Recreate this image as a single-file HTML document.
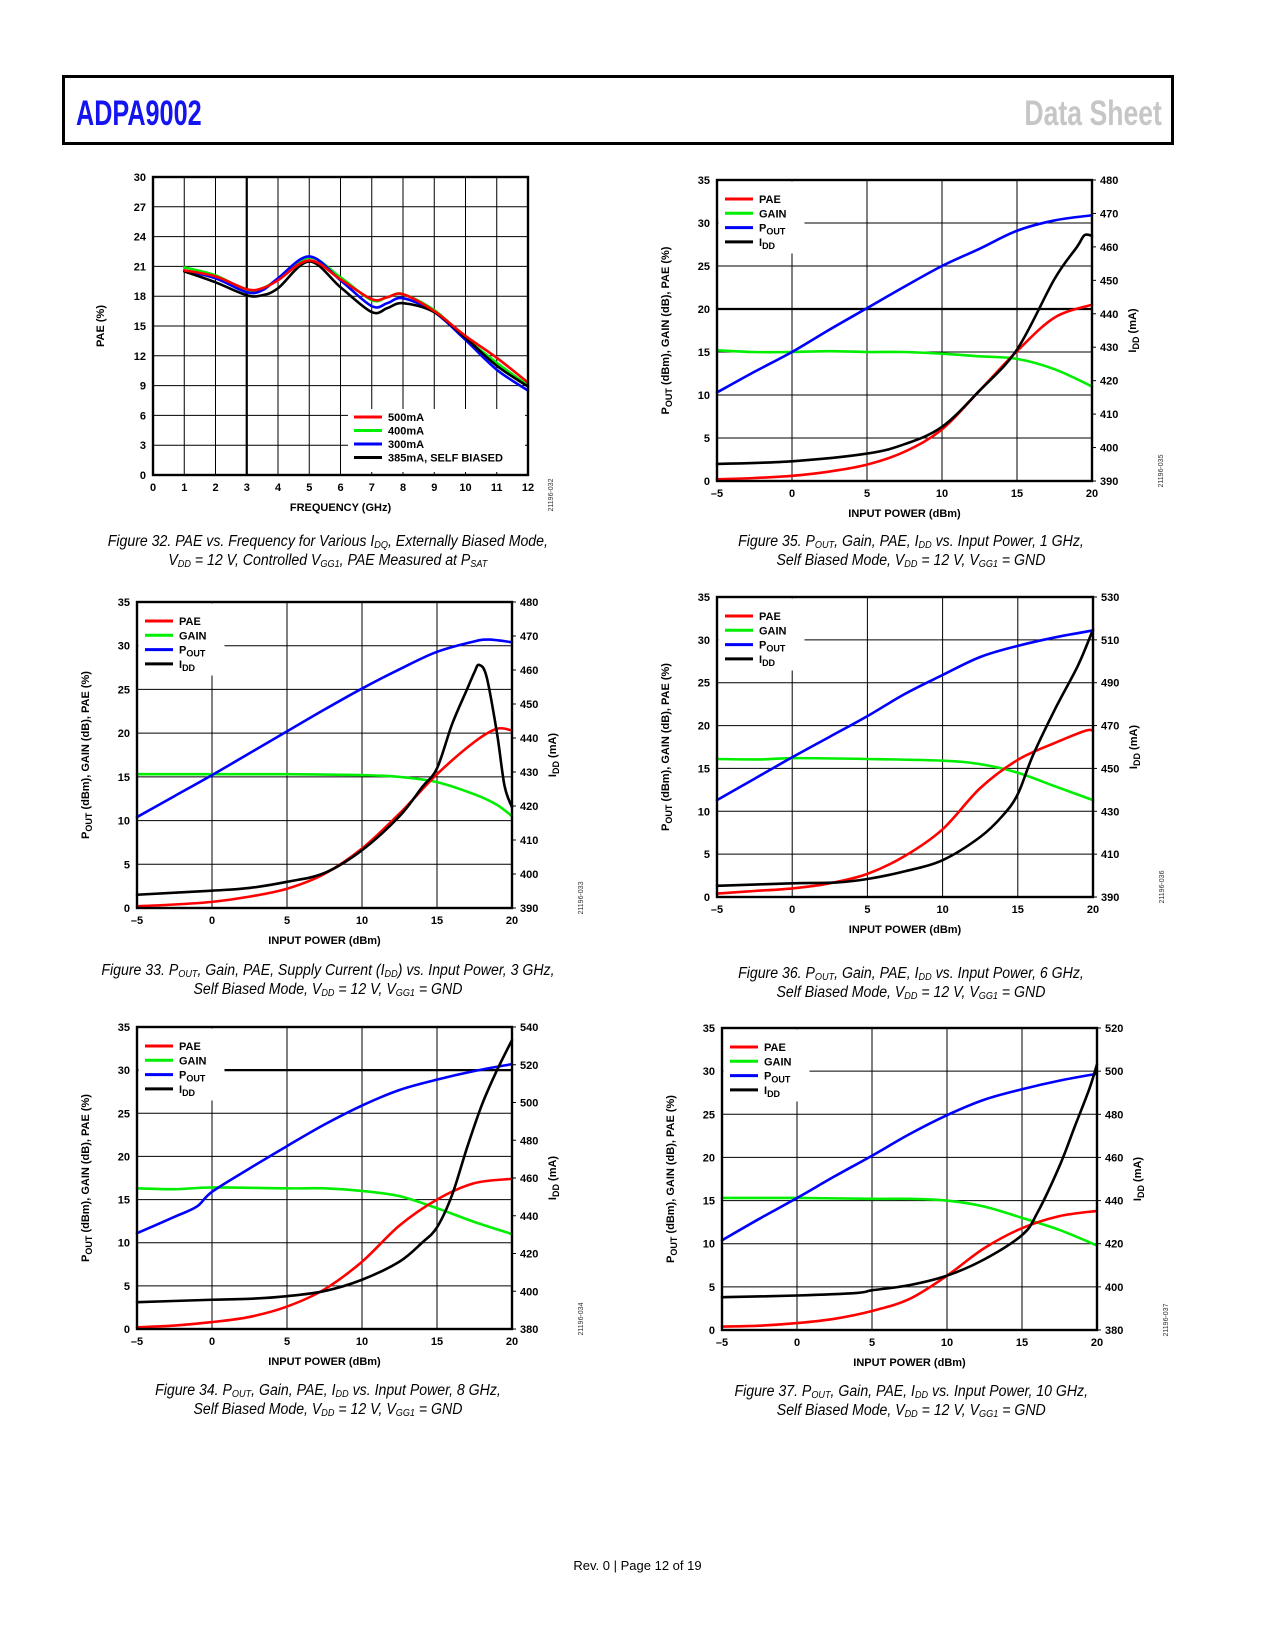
<!DOCTYPE html>
<html><head><meta charset="utf-8">
<style>
body{margin:0;background:#fff;}
#page{position:relative;width:1275px;height:1650px;overflow:hidden;background:#fff;font-family:"Liberation Sans",sans-serif;}
.hdr{position:absolute;left:62px;top:75px;width:1106px;height:64px;border:3px solid #000;}
.title{position:absolute;font-weight:bold;font-size:35px;white-space:nowrap;line-height:1;}
.cap{position:absolute;width:600px;text-align:center;font-style:italic;font-size:15.5px;line-height:19px;white-space:nowrap;}
.cap span.in{display:inline-block;transform:scaleX(0.91);transform-origin:center;}
sub{font-size:10px;vertical-align:-2px;line-height:0;}
.foot{position:absolute;left:0;width:1275px;top:1558px;text-align:center;font-size:13px;}
</style></head>
<body>
<div id="page">
  <div class="hdr"></div>
  <div class="title" style="left:76px;top:96px;color:#1414f0;transform:scaleX(0.72);transform-origin:left top;">ADPA9002</div>
  <div class="title" style="right:113px;top:96px;color:#c6c6c6;transform:scaleX(0.76);transform-origin:right top;">Data Sheet</div>

  <svg id="charts" width="1275" height="1650" style="position:absolute;left:0;top:0"></svg>

  <div class="cap" style="left:28px;top:532px"><span class="in">Figure 32. PAE vs. Frequency for Various I<sub>DQ</sub>, Externally Biased Mode,<br>V<sub>DD</sub> = 12 V, Controlled V<sub>GG1</sub>, PAE Measured at P<sub>SAT</sub></span></div>
  <div class="cap" style="left:611px;top:532px"><span class="in">Figure 35. P<sub>OUT</sub>, Gain, PAE, I<sub>DD</sub> vs. Input Power, 1 GHz,<br>Self Biased Mode, V<sub>DD</sub> = 12 V, V<sub>GG1</sub> = GND</span></div>
  <div class="cap" style="left:28px;top:961px"><span class="in">Figure 33. P<sub>OUT</sub>, Gain, PAE, Supply Current (I<sub>DD</sub>) vs. Input Power, 3 GHz,<br>Self Biased Mode, V<sub>DD</sub> = 12 V, V<sub>GG1</sub> = GND</span></div>
  <div class="cap" style="left:611px;top:964px"><span class="in">Figure 36. P<sub>OUT</sub>, Gain, PAE, I<sub>DD</sub> vs. Input Power, 6 GHz,<br>Self Biased Mode, V<sub>DD</sub> = 12 V, V<sub>GG1</sub> = GND</span></div>
  <div class="cap" style="left:28px;top:1381px"><span class="in">Figure 34. P<sub>OUT</sub>, Gain, PAE, I<sub>DD</sub> vs. Input Power, 8 GHz,<br>Self Biased Mode, V<sub>DD</sub> = 12 V, V<sub>GG1</sub> = GND</span></div>
  <div class="cap" style="left:611px;top:1382px"><span class="in">Figure 37. P<sub>OUT</sub>, Gain, PAE, I<sub>DD</sub> vs. Input Power, 10 GHz,<br>Self Biased Mode, V<sub>DD</sub> = 12 V, V<sub>GG1</sub> = GND</span></div>

  <div class="foot">Rev. 0 | Page 12 of 19</div>
</div>
<script>
// ---------- Figure 32 data ----------
const f32Freq = [1,2,3,3.5,4,5,6,7,7.5,8,9,10,11,12];
const f32Pae500 = [20.6,20.0,18.7,18.8,19.6,21.6,19.7,17.7,17.9,18.2,16.5,14.0,11.8,9.3];
const f32Pae400 = [20.9,20.1,18.6,18.8,19.7,21.9,19.9,17.6,17.9,18.2,16.6,13.8,11.3,9.0];
const f32Pae300 = [20.6,19.8,18.4,18.6,19.8,22.0,19.6,17.0,17.3,17.8,16.4,13.6,10.6,8.5];
const f32PaeSelf = [20.5,19.4,18.1,18.1,18.8,21.5,18.9,16.4,16.8,17.3,16.4,13.8,11.0,8.9];
const f32XTicks = [0,1,2,3,4,5,6,7,8,9,10,11,12];
const f32YTicks = [0,3,6,9,12,15,18,21,24,27,30];
const f32Legend = ["500mA","400mA","300mA","385mA, SELF BIASED"];

// ---------- Figure 33 (3 GHz) ----------
const f33PoutX = [-5,-2.5,0,2.5,5,7.5,10,12.5,15,17.5,18.5,20];
const f33Pout = [10.4,12.8,15.2,17.7,20.2,22.7,25.1,27.3,29.3,30.5,30.7,30.4];
const f33GainX = [-5,0,5,10,12.5,15,17.5,19,20];
const f33Gain = [15.3,15.3,15.3,15.2,15.0,14.4,13.0,11.8,10.5];
const f33PaeX = [-5,-2.5,0,2.5,5,7.5,10,12.5,15,17.5,19,20];
const f33Pae = [0.2,0.4,0.7,1.3,2.2,3.9,6.8,10.8,15.3,19.0,20.5,20.3];
const f33IddX = [-5,0,2.5,5,7.5,10,12.5,14,15,16,17,17.5,17.8,18.3,19,19.5,20];
const f33Idd = [393.9,395.1,395.9,397.7,400.3,407,417,425.5,431.1,444,454.3,459.4,461.5,458.1,441.4,426,419.6];
const f33IddTicks = [390,400,410,420,430,440,450,460,470,480];

// ---------- Figure 34 (8 GHz) ----------
const f34PoutX = [-5,-2.5,-1,0,2.5,5,7.5,10,12.5,15,17.5,20];
const f34Pout = [11.1,13.0,14.2,15.9,18.6,21.2,23.7,25.9,27.7,28.9,29.9,30.7];
const f34GainX = [-5,-2.5,0,5,7.5,10,12.5,15,17.5,20];
const f34Gain = [16.3,16.2,16.4,16.3,16.3,16.0,15.4,14.0,12.4,11.0];
const f34PaeX = [-5,-2.5,0,2.5,5,7.5,10,12.5,15,17.5,20];
const f34Pae = [0.2,0.4,0.8,1.4,2.6,4.6,7.8,12.0,15.0,16.9,17.4];
const f34IddX = [-5,0,2.5,5,7.5,10,12.5,14,15,16,17,18,19,20];
const f34Idd = [394.2,395.5,396,397.4,400.1,406.1,415.7,425.7,433.9,450.9,476,498.9,517.1,533.1];
const f34IddTicks = [380,400,420,440,460,480,500,520,540];

// ---------- Figure 35 (1 GHz) ----------
const f35PoutX = [-5,-2.5,0,2.5,5,7.5,10,12.5,15,17.5,20];
const f35Pout = [10.3,12.7,15.0,17.6,20.1,22.6,25.0,27.0,29.1,30.3,30.9];
const f35GainX = [-5,-2.5,0,2.5,5,7.5,10,12.5,15,17.5,20];
const f35Gain = [15.2,15.0,15.0,15.1,15.0,15.0,14.8,14.5,14.2,13.0,11.0];
const f35PaeX = [-5,-2.5,0,2.5,5,7.5,10,12.5,15,17.5,20];
const f35Pae = [0.2,0.35,0.6,1.1,1.9,3.4,6.0,10.5,15.1,19.0,20.5];
const f35IddX = [-5,0,5,7.5,10,12.5,15,17.5,19,19.5,20];
const f35Idd = [395.1,395.9,398.2,401,406.2,417,429.3,450.4,460,463.5,463.3];
const f35IddTicks = [390,400,410,420,430,440,450,460,470,480];

// ---------- Figure 36 (6 GHz) ----------
const f36PoutX = [-5,-2.5,0,2.5,5,7.5,10,12.5,15,17.5,20];
const f36Pout = [11.3,13.8,16.3,18.7,21.1,23.7,25.9,28.0,29.3,30.3,31.1];
const f36GainX = [-5,-2,0,5,10,12.5,15,17.5,20];
const f36Gain = [16.1,16.05,16.2,16.1,15.9,15.5,14.5,12.9,11.3];
const f36PaeX = [-5,-2.5,0,2.5,5,7.5,10,12.5,15,17.5,19.5,20];
const f36Pae = [0.4,0.7,1.0,1.6,2.7,4.8,7.9,12.7,16.0,18.0,19.4,19.4];
const f36IddX = [-5,0,3,5,7.5,10,12.5,14,15,16,17.5,19,20];
const f36Idd = [395.2,396.4,396.8,398.4,402,407.2,418,428,438,456,478,498,514.8];
const f36IddTicks = [390,410,430,450,470,490,510,530];

// ---------- Figure 37 (10 GHz) ----------
const f37PoutX = [-5,-2.5,0,2.5,5,7.5,10,12.5,15,17.5,20];
const f37Pout = [10.4,12.9,15.3,17.8,20.2,22.7,24.9,26.7,27.9,28.9,29.7];
const f37GainX = [-5,0,5,7.5,10,12.5,15,17.5,20];
const f37Gain = [15.3,15.3,15.2,15.2,15.0,14.3,13.0,11.6,9.8];
const f37PaeX = [-5,-2.5,0,2.5,5,7.5,10,12.5,15,17.5,20];
const f37Pae = [0.4,0.5,0.8,1.3,2.2,3.6,6.3,9.5,11.8,13.2,13.8];
const f37IddX = [-5,0,4,5,7.5,10,12.5,15,16,17.5,18.5,19.5,20];
const f37Idd = [395.2,396,397.2,398.4,400.8,405.2,412.8,424,434,456,474,492,503.2];
const f37IddTicks = [380,400,420,440,460,480,500,520];

const ioXTicks = [-5,0,5,10,15,20];
const ioYTicks = [0,5,10,15,20,25,30,35];
const ioLegend = ["PAE","GAIN","POUT","IDD"];

const NS = "http://www.w3.org/2000/svg";
const svg = document.getElementById('charts');
function mk(tag, attrs, parent){
  const e = document.createElementNS(NS, tag);
  for (const k in attrs) e.setAttribute(k, attrs[k]);
  (parent||svg).appendChild(e);
  return e;
}
function smoothPath(pts){
  let d = "M" + pts[0][0].toFixed(2) + "," + pts[0][1].toFixed(2);
  for (let i=0;i<pts.length-1;i++){
    const p0 = pts[Math.max(0,i-1)], p1 = pts[i], p2 = pts[i+1], p3 = pts[Math.min(pts.length-1,i+2)];
    const c1x = p1[0] + (p2[0]-p0[0])/6, c1y = p1[1] + (p2[1]-p0[1])/6;
    const c2x = p2[0] - (p3[0]-p1[0])/6, c2y = p2[1] - (p3[1]-p1[1])/6;
    d += " C" + c1x.toFixed(2)+","+c1y.toFixed(2)+" "+c2x.toFixed(2)+","+c2y.toFixed(2)+" "+p2[0].toFixed(2)+","+p2[1].toFixed(2);
  }
  return d;
}
function label(txt, x, y, anchor, size, parent){
  const t = mk('text', {x:x, y:y, 'text-anchor':anchor, 'font-size':size||11, 'font-weight':'bold', 'font-family':'Liberation Sans, sans-serif', fill:'#000'}, parent);
  t.textContent = txt;
  return t;
}
function subLabel(main, sub, rest, x, y, anchor, rot, parent){
  const t = mk('text', {x:x, y:y, 'text-anchor':anchor, 'font-size':11, 'font-weight':'bold', 'font-family':'Liberation Sans, sans-serif', fill:'#000'}, parent);
  if (rot) t.setAttribute('transform', 'rotate(-90 '+x+' '+y+')');
  const a = mk('tspan', {}, t); a.textContent = main;
  const b = mk('tspan', {dy:3, 'font-size':9}, t); b.textContent = sub;
  if (rest){ const c = mk('tspan', {dy:-3}, t); c.textContent = rest; }
  return t;
}

function chart(cfg){
  const g = mk('g', {});
  
  
  const L=cfg.left, T=cfg.top, R=cfg.right, B=cfg.bottom;
  const sx = v => L + (v - cfg.xmin)/(cfg.xmax-cfg.xmin)*(R-L);
  const sy = v => B - (v - cfg.ymin)/(cfg.ymax-cfg.ymin)*(B-T);
  const sy2 = v => B - (v - cfg.y2min)/(cfg.y2max-cfg.y2min)*(B-T);
  const grid = mk('g', {}, g);
  
  
  cfg.xticks.forEach(v => {
    const x = sx(v);
    const thick = (cfg.thickX === v);
    mk('line', {x1:x, x2:x, y1:T, y2:B, stroke:'#000', 'stroke-width': thick?2.2:1}, grid);
    const tl = label(v<0 ? '\u2013'+Math.abs(v) : String(v), x, B+16, 'middle', 11, g);
    
    
  });
  cfg.yticks.forEach(v => {
    const y = sy(v);
    const thick = (cfg.thickY === v);
    mk('line', {x1:L, x2:R, y1:y, y2:y, stroke:'#000', 'stroke-width': thick?2.2:1}, grid);
    const tl = label(String(v), L-7, y+4, 'end', 11, g);
    
    
  });
  if (cfg.y2ticks){
    cfg.y2ticks.forEach(v => {
      const y = sy2(v);
      mk('line', {x1:R, x2:R+4, y1:y, y2:y, stroke:'#000', 'stroke-width':1}, g);
      const tl = label(String(v), R+8, y+4, 'start', 11, g);
      
      
    });
  }
  const lg = mk('g', {}, g);
  
  
  const lb = cfg.legendBox;
  mk('rect', {x:lb[0], y:lb[1], width:lb[2], height:lb[3], fill:'#fff'}, lg);
  cfg.series.forEach(s => {
    const f = s.axis===2 ? sy2 : sy;
    const pts = s.xs.map((x,i)=>[sx(x), f(s.ys[i])]);
    const p = mk('path', {d:smoothPath(pts), fill:'none', stroke:s.color, 'stroke-width':2.6, 'stroke-linejoin':'round', 'stroke-linecap':'round'}, g);
    
    
  });
  svg.appendChild(lg);
  cfg.legend.forEach((e,i) => {
    const y = cfg.legendY + i*cfg.legendStep;
    mk('line', {x1:cfg.legendX, x2:cfg.legendX+28, y1:y, y2:y, stroke:e.color, 'stroke-width':3}, lg);
    let t;
    if (e.sub) t = subLabel(e.main, e.sub, '', cfg.legendX+34, y+4, 'start', false, lg);
    else t = label(e.main, cfg.legendX+34, y+4, 'start', 11, lg);
    
    
  });
  mk('rect', {x:L, y:T, width:R-L, height:B-T, fill:'none', stroke:'#000', 'stroke-width':2.4}, g);
  const xt = label(cfg.xtitle, (L+R)/2, B+36, 'middle', 11, g);
  
  
  const fid = mk('text', {x:cfg.idX, y:cfg.idY, 'text-anchor':'middle', 'font-size':7, 'font-family':'Liberation Sans, sans-serif', fill:'#333', transform:'rotate(-90 '+cfg.idX+' '+cfg.idY+')'}, g);
  fid.textContent = cfg.figId;
  
  
  return {g, L, T, R, B};
}

const ioColors = ['#ff0000','#00ee00','#0000ff','#000000'];
function ioChart(name, L, T, R, B, y2min, y2max, y2ticks, thickY, d, figId){
  const c = chart({
    name:name, left:L, top:T, right:R, bottom:B,
    xmin:-5, xmax:20, ymin:0, ymax:35, y2min:y2min, y2max:y2max,
    xticks:ioXTicks, yticks:ioYTicks, y2ticks:y2ticks, thickY:thickY,
    series:[
      {name:'gain-line', xs:d.gainX, ys:d.gain, color:ioColors[1], axis:1},
      {name:'pout-line', xs:d.poutX, ys:d.pout, color:ioColors[2], axis:1},
      {name:'pae-line', xs:d.paeX, ys:d.pae, color:ioColors[0], axis:1},
      {name:'idd-line', xs:d.iddX, ys:d.idd, color:ioColors[3], axis:2}
    ],
    legendBox:[L+1.5, T+1.5, 86, 72],
    legendX:L+8, legendY:T+19, legendStep:14.3,
    legend:[{main:ioLegend[0],color:ioColors[0]},{main:ioLegend[1],color:ioColors[1]},{main:'P',sub:'OUT',color:ioColors[2]},{main:'I',sub:'DD',color:ioColors[3]}],
    xtitle:'INPUT POWER (dBm)', idX:R+71, idY:B-10, figId:figId
  });
  const yl = subLabel('P', 'OUT', ' (dBm), GAIN (dB), PAE (%)', L-48, (T+B)/2, 'middle', true, c.g);
  
  
  const yr = subLabel('I', 'DD', ' (mA)', R+44, (T+B)/2, 'middle', true, c.g);
  
  
}

const c32 = chart({
  name:'figure-32-chart', left:153, top:177, right:528, bottom:475,
  xmin:0, xmax:12, ymin:0, ymax:30, xticks:f32XTicks, yticks:f32YTicks, thickX:3,
  series:[
    {name:'idq-400ma-line', xs:f32Freq, ys:f32Pae400, color:'#00ee00'},
    {name:'idq-300ma-line', xs:f32Freq, ys:f32Pae300, color:'#0000ff'},
    {name:'self-biased-line', xs:f32Freq, ys:f32PaeSelf, color:'#000000'},
    {name:'idq-500ma-line', xs:f32Freq, ys:f32Pae500, color:'#ff0000'}
  ],
  legendBox:[348, 409, 177, 63],
  legendX:354, legendY:417, legendStep:13.5,
  legend:[{main:f32Legend[0],color:'#ff0000'},{main:f32Legend[1],color:'#00ee00'},{main:f32Legend[2],color:'#0000ff'},{main:f32Legend[3],color:'#000000'}],
  xtitle:'FREQUENCY (GHz)', idX:553, idY:495, figId:'21196-032'
});
(function(){
  const t = mk('text', {x:104, y:326, 'text-anchor':'middle', 'font-size':11, 'font-weight':'bold', 'font-family':'Liberation Sans, sans-serif', transform:'rotate(-90 104 326)'}, c32.g);
  t.textContent = 'PAE (%)';
  
  
})();

ioChart('figure-35-chart', 717, 180, 1092, 481, 390, 480, f35IddTicks, 20,
  {poutX:f35PoutX,pout:f35Pout,gainX:f35GainX,gain:f35Gain,paeX:f35PaeX,pae:f35Pae,iddX:f35IddX,idd:f35Idd}, '21196-035');
ioChart('figure-33-chart', 137, 602, 512, 908, 390, 480, f33IddTicks, null,
  {poutX:f33PoutX,pout:f33Pout,gainX:f33GainX,gain:f33Gain,paeX:f33PaeX,pae:f33Pae,iddX:f33IddX,idd:f33Idd}, '21196-033');
ioChart('figure-36-chart', 717, 597, 1093, 897, 390, 530, f36IddTicks, null,
  {poutX:f36PoutX,pout:f36Pout,gainX:f36GainX,gain:f36Gain,paeX:f36PaeX,pae:f36Pae,iddX:f36IddX,idd:f36Idd}, '21196-036');
ioChart('figure-34-chart', 137, 1027, 512, 1329, 380, 540, f34IddTicks, 30,
  {poutX:f34PoutX,pout:f34Pout,gainX:f34GainX,gain:f34Gain,paeX:f34PaeX,pae:f34Pae,iddX:f34IddX,idd:f34Idd}, '21196-034');
ioChart('figure-37-chart', 722, 1028, 1097, 1330, 380, 520, f37IddTicks, null,
  {poutX:f37PoutX,pout:f37Pout,gainX:f37GainX,gain:f37Gain,paeX:f37PaeX,pae:f37Pae,iddX:f37IddX,idd:f37Idd}, '21196-037');
</script>
</body></html>
